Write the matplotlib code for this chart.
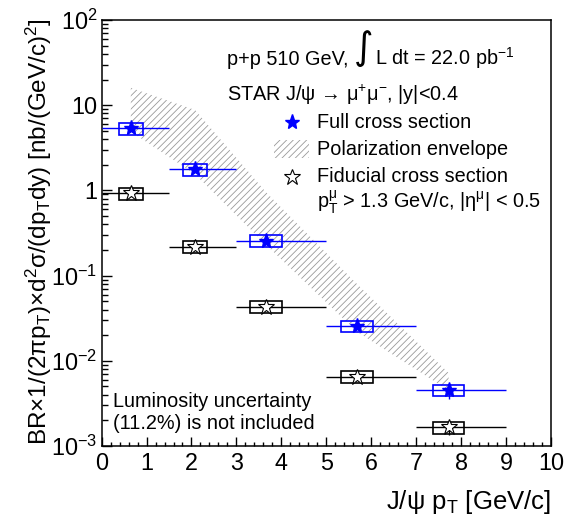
import numpy as np
import matplotlib
matplotlib.use('Agg')
import matplotlib.pyplot as plt
from matplotlib.patches import Rectangle
from matplotlib.ticker import FixedLocator, MultipleLocator, LogLocator, NullFormatter

plt.rcParams['font.family'] = ['Liberation Sans', 'DejaVu Sans']
plt.rcParams['mathtext.fontset'] = 'custom'
plt.rcParams['mathtext.rm'] = 'Liberation Sans'
plt.rcParams['mathtext.it'] = 'Liberation Sans'
plt.rcParams['mathtext.bf'] = 'Liberation Sans:bold'
plt.rcParams['hatch.linewidth'] = 0.6

# pT bins [GeV/c]
pt_lo = [0, 1.5, 3, 5, 7]
pt_hi = [1.5, 3, 5, 7, 9]
pt_mean = [0.65, 2.08, 3.66, 5.68, 7.72]

# full cross section
full = [5.36, 1.77, 0.257, 0.0256, 0.0045]
full_stat = [0.3, 0.1, 0.015, 0.002, 0.0009]
full_sys = [0.85, 0.28, 0.04, 0.0036, 0.00066]

# fiducial cross section
fid = [0.925, 0.217, 0.0432, 0.00651, 0.00166]
fid_stat = [0.05, 0.012, 0.003, 0.0006, 0.0003]
fid_sys = [0.15, 0.035, 0.007, 0.001, 0.00026]

# polarization envelope
env_x = [0.65, 2.08, 3.66, 5.68, 7.72]
env_lo = [4.9, 1.55, 0.23, 0.022, 0.0045]
env_hi = [16, 8.8, 0.95, 0.08, 0.0072]

ytick_vals = [1e-3, 1e-2, 1e-1, 1, 10, 100]
ytick_labels = ['$10^{-3}$', '$10^{-2}$', '$10^{-1}$', '1', '10', '$10^{2}$']

BLUE = '#0000ff'
HATCH = '#9a9a9a'
FS = 14.3

fig = plt.figure(figsize=(5.74, 5.20), dpi=100)
ax = fig.add_axes([0.177, 0.1423, 0.783, 0.8192])
ax.set_yscale('log')

lo = np.array(pt_lo)
hi = np.array(pt_hi)
xm = np.array(pt_mean)
xerr = [xm - lo, hi - xm]
box_w = 0.35 * (hi - lo)

# envelope
ax.fill_between(env_x, env_lo, env_hi, facecolor='none', edgecolor=HATCH,
                hatch='/////', linewidth=0, zorder=1)

# systematic boxes
ax.bar(xm, 2 * np.array(full_sys), bottom=np.array(full) - np.array(full_sys),
       width=box_w, fill=False, edgecolor=BLUE, linewidth=1.2, zorder=3)
ax.bar(xm, 2 * np.array(fid_sys), bottom=np.array(fid) - np.array(fid_sys),
       width=box_w, fill=False, edgecolor='k', linewidth=1.2, zorder=3)

# points
ax.errorbar(xm, full, xerr=xerr, yerr=full_stat, fmt='*', color=BLUE, ms=11,
            mec=BLUE, mfc=BLUE, elinewidth=1.0, capsize=0, zorder=4)
ax.errorbar(xm, fid, xerr=xerr, yerr=fid_stat, fmt='*', color='k', ms=12,
            mec='k', mfc='white', mew=0.8, elinewidth=1.0, capsize=0, zorder=4)

ax.set_xlim(0, 10)
ax.set_ylim(1e-3, 1e2)

ax.xaxis.set_major_locator(MultipleLocator(1))
ax.xaxis.set_minor_locator(MultipleLocator(0.2))
ax.yaxis.set_major_locator(FixedLocator(ytick_vals))
ax.set_yticklabels(ytick_labels)
ax.yaxis.set_minor_locator(LogLocator(base=10, subs=np.arange(2, 10)))
ax.yaxis.set_minor_formatter(NullFormatter())
ax.tick_params(which='both', direction='in', top=False, right=False,
               labelsize=16.8, width=1.0)
ax.tick_params(axis='x', which='major', length=6.5, pad=4)
ax.tick_params(axis='x', which='minor', length=3.2)
ax.tick_params(axis='y', which='major', length=7, pad=3)
ax.tick_params(axis='y', which='minor', length=4)
for s in ax.spines.values():
    s.set_linewidth(1.1)

ax.set_xlabel('J/ψ p$_\\mathrm{T}$ [GeV/c]', fontsize=18.5, loc='right')
ax.xaxis.set_label_coords(1.0, -0.098)
ax.set_ylabel('BR×1/(2πp$_\\mathrm{T}$)×d$^\\mathrm{2}$σ/(dp$_\\mathrm{T}$dy) [nb/(GeV/c)$^\\mathrm{2}$]',
              fontsize=17.5, loc='top')
ax.yaxis.set_label_coords(-0.105, 1.005)

tf = ax.transAxes
ax.text(0.278, 0.894, 'p+p 510 GeV,', transform=tf, fontsize=FS, va='baseline')
ax.text(0.584, 0.932, '∫', transform=tf, fontsize=27, va='center', ha='center',
        family='DejaVu Sans')
ax.text(0.608, 0.894, 'L dt = 22.0 pb$^\\mathrm{-1}$', transform=tf, fontsize=FS,
        va='baseline')
ax.text(0.278, 0.810, 'STAR J/ψ → μ$^\\mathrm{+}$μ$^\\mathrm{-}$, |y|<0.4', transform=tf,
        fontsize=FS, va='baseline')

# legend
ax.plot([0.423], [0.760], '*', transform=tf, ms=11, color=BLUE, clip_on=False)
ax.text(0.4785, 0.746, 'Full cross section', transform=tf, fontsize=FS, va='baseline')
ax.add_patch(Rectangle((0.384, 0.675), 0.077, 0.043, transform=tf, facecolor='none',
                       edgecolor=HATCH, hatch='/////', linewidth=0))
ax.text(0.4785, 0.683, 'Polarization envelope', transform=tf, fontsize=FS, va='baseline')
ax.plot([0.423], [0.632], '*', transform=tf, ms=12, mec='k', mfc='white', mew=0.8,
        clip_on=False)
ax.text(0.4785, 0.620, 'Fiducial cross section', transform=tf, fontsize=FS, va='baseline')
ax.text(0.4785, 0.558, 'p$_\\mathrm{T}^\\mathrm{μ}$ > 1.3 GeV/c, |η$^\\mathrm{μ}$| < 0.5',
        transform=tf, fontsize=FS, va='baseline')

ax.text(0.0245, 0.092, 'Luminosity uncertainty', transform=tf, fontsize=FS, va='baseline')
ax.text(0.0245, 0.040, '(11.2%) is not included', transform=tf, fontsize=FS, va='baseline')

fig.savefig('out.png', dpi=100)
